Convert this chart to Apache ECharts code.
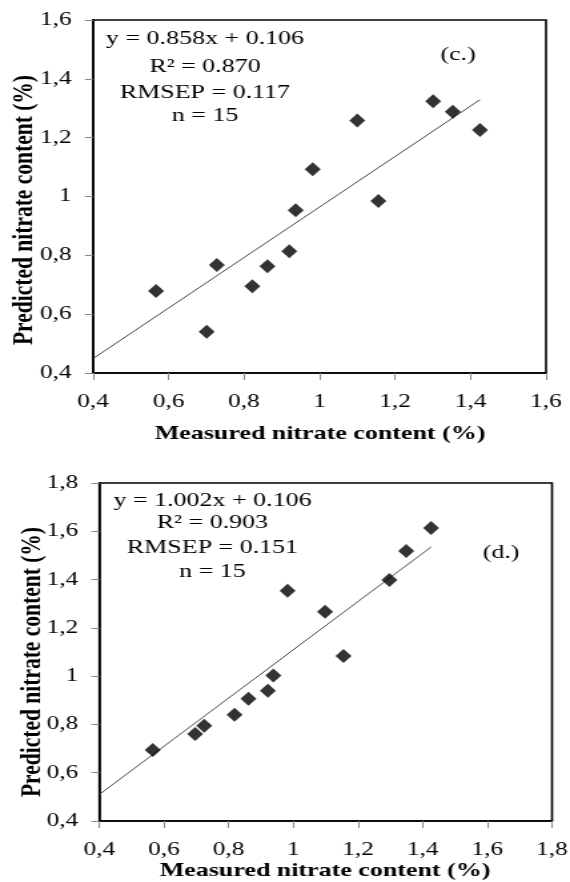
<!DOCTYPE html>
<html>
<head>
<meta charset="utf-8">
<script src="https://cdn.jsdelivr.net/npm/echarts@6/dist/echarts.min.js"></script>
<style>
html,body{margin:0;padding:0;background:#fff;overflow:hidden;}
#wrap{width:428px;height:882px;transform:scaleX(1.331776);transform-origin:0 0;}
#chart{width:428px;height:882px;}
</style>
</head>
<body>
<div id="wrap"><div id="chart"></div></div>
<script>
// ---- data (c.) ----
const measuredC = [0.567, 0.701, 0.728, 0.822, 0.862, 0.920, 0.937, 0.982, 1.100, 1.156, 1.301, 1.353, 1.425];
const predictedC = [0.679, 0.540, 0.767, 0.695, 0.763, 0.814, 0.953, 1.093, 1.258, 0.985, 1.324, 1.288, 1.226];
const fitXC = [0.4, 1.425];
const fitYC = [0.449, 1.329];
const statsC = ['y = 0.858x + 0.106', 'R\u00B2 = 0.870', 'RMSEP = 0.117', 'n = 15'];
const panelC = '(c.)';
const xTicksC = ['0,4', '0,6', '0,8', '1', '1,2', '1,4', '1,6'];
const yTicksC = ['0,4', '0,6', '0,8', '1', '1,2', '1,4', '1,6'];

// ---- data (d.) ----
const measuredD = [0.565, 0.696, 0.724, 0.818, 0.861, 0.921, 0.938, 0.982, 1.098, 1.155, 1.297, 1.349, 1.426];
const predictedD = [0.694, 0.760, 0.795, 0.840, 0.906, 0.940, 1.003, 1.354, 1.267, 1.083, 1.398, 1.518, 1.614];
const fitXD = [0.4, 1.426];
const fitYD = [0.510, 1.535];
const statsD = ['y = 1.002x + 0.106', 'R\u00B2 = 0.903', 'RMSEP = 0.151', 'n = 15'];
const panelD = '(d.)';
const xTicksD = ['0,4', '0,6', '0,8', '1', '1,2', '1,4', '1,6', '1,8'];
const yTicksD = ['0,4', '0,6', '0,8', '1', '1,2', '1,4', '1,6', '1,8'];

const xTitle = 'Measured nitrate content (%)';
const yTitle = 'Predicted nitrate content (%)';

const FONT = '"Liberation Serif", "Times New Roman", serif';
const S = 1.331776; // horizontal stretch of the reference

function zip(a, b) { return a.map((v, i) => [v, b[i]]); }

function axisCommon(labels, tickLen, margin) {
  return {
    type: 'value', min: 0.4, interval: 0.2,
    axisLine: { show: true, onZero: false, lineStyle: { color: '#000', width: 1.6 } },
    axisTick: { show: true, inside: false, length: tickLen, lineStyle: { color: '#888', width: 1 } },
    axisLabel: {
      margin: margin, fontFamily: FONT, fontSize: 19, color: '#000',
      formatter: v => labels[Math.round((v - 0.4) / 0.2)]
    },
    splitLine: { show: false }
  };
}

const gridC = { left: 93 / S, top: 20, width: (546 - 93) / S, height: 353 };
const gridD = { left: 99.4 / S, top: 483, width: (552 - 99.4) / S, height: 338 };

function txt(x, y, text, size, bold, rot) {
  return {
    type: 'text', x: x, y: y, rotation: rot || 0, silent: true,
    style: {
      text: text, fill: '#000', align: 'center', verticalAlign: 'middle',
      font: (bold ? 'bold ' : '') + size + 'px ' + FONT
    }
  };
}

const graphics = [];
const ysC = [39, 66.5, 92.5, 116];
statsC.forEach((t, i) => graphics.push(txt(205 / S, ysC[i], t, 19.5)));
graphics.push(txt(458 / S, 55, panelC, 19.5));
const ysD = [500.7, 523.3, 547.5, 571.7];
statsD.forEach((t, i) => graphics.push(txt(212.5 / S, ysD[i], t, 19.5)));
graphics.push(txt(501 / S, 553, panelD, 19.5));
graphics.push(txt(320 / S, 434, xTitle, 19.5, true));
graphics.push(txt(325 / S, 871, xTitle, 19.5, true));
graphics.push(txt(25 / S, 210, yTitle, 21.5, true, Math.PI / 2));
graphics.push(txt(32 / S, 662, yTitle, 21.5, true, Math.PI / 2));

const gridStyle = { show: true, borderColor: '#000', borderWidth: 1.6, backgroundColor: 'transparent', containLabel: false, outerBoundsMode: 'none' };

const option = {
  animation: false,
  backgroundColor: '#fff',
  grid: [Object.assign({}, gridStyle, gridC), Object.assign({}, gridStyle, gridD)],
  xAxis: [
    Object.assign(axisCommon(xTicksC, 7, 20), { gridIndex: 0, max: 1.6 }),
    Object.assign(axisCommon(xTicksD, 7, 20), { gridIndex: 1, max: 1.8 })
  ],
  yAxis: [
    Object.assign(axisCommon(yTicksC, 6, 16), { gridIndex: 0, max: 1.6 }),
    Object.assign(axisCommon(yTicksD, 6, 16), { gridIndex: 1, max: 1.8 })
  ],
  series: [
    { type: 'line', xAxisIndex: 0, yAxisIndex: 0, data: zip(fitXC, fitYC), symbol: 'none', silent: true,
      lineStyle: { color: '#444', width: 1 }, z: 2 },
    { type: 'scatter', xAxisIndex: 0, yAxisIndex: 0, data: zip(measuredC, predictedC), symbol: 'diamond',
      symbolSize: [12, 14], itemStyle: { color: '#000' }, z: 3 },
    { type: 'line', xAxisIndex: 1, yAxisIndex: 1, data: zip(fitXD, fitYD), symbol: 'none', silent: true,
      lineStyle: { color: '#444', width: 1 }, z: 2 },
    { type: 'scatter', xAxisIndex: 1, yAxisIndex: 1, data: zip(measuredD, predictedD), symbol: 'diamond',
      symbolSize: [12, 14], itemStyle: { color: '#000' }, z: 3 }
  ],
  graphic: graphics
};

const chart = echarts.init(document.getElementById('chart'), null, { renderer: 'canvas' });
chart.setOption(option);
</script>
</body>
</html>
